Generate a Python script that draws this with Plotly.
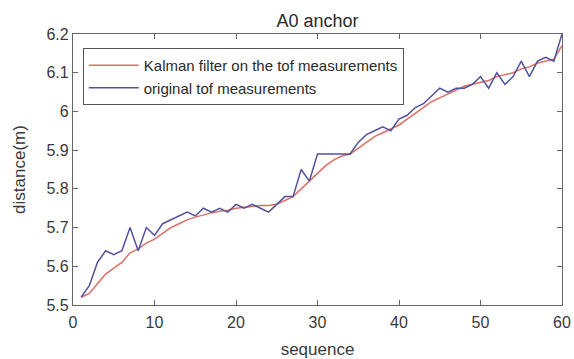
import plotly.graph_objects as go

seq = list(range(1, 61))
tof = [5.52, 5.55, 5.61, 5.64, 5.63, 5.64, 5.70, 5.64, 5.70, 5.68,
       5.71, 5.72, 5.73, 5.74, 5.73, 5.75, 5.74, 5.75, 5.74, 5.76,
       5.75, 5.76, 5.75, 5.74, 5.76, 5.78, 5.78, 5.85, 5.82, 5.89,
       5.89, 5.89, 5.89, 5.89, 5.92, 5.94, 5.95, 5.96, 5.95, 5.98,
       5.99, 6.01, 6.02, 6.04, 6.06, 6.05, 6.06, 6.06, 6.07, 6.09,
       6.06, 6.10, 6.07, 6.09, 6.13, 6.09, 6.13, 6.14, 6.13, 6.20]
kalman = [5.52, 5.53, 5.555, 5.58, 5.595, 5.61, 5.635, 5.645, 5.66, 5.67,
          5.685, 5.70, 5.71, 5.72, 5.727, 5.733, 5.738, 5.742, 5.745, 5.75,
          5.752, 5.755, 5.757, 5.757, 5.76, 5.77, 5.78, 5.80, 5.82, 5.84,
          5.86, 5.875, 5.885, 5.89, 5.905, 5.92, 5.935, 5.945, 5.955, 5.965,
          5.98, 5.995, 6.01, 6.025, 6.035, 6.045, 6.055, 6.065, 6.07, 6.075,
          6.08, 6.09, 6.095, 6.10, 6.11, 6.115, 6.125, 6.13, 6.135, 6.17]

x_ticks = [0, 10, 20, 30, 40, 50, 60]
y_ticks = [5.5, 5.6, 5.7, 5.8, 5.9, 6.0, 6.1, 6.2]
y_labels = ["5.5", "5.6", "5.7", "5.8", "5.9", "6", "6.1", "6.2"]

fig = go.Figure()
fig.add_trace(go.Scatter(x=seq, y=kalman, mode="lines", name="Kalman filter on the tof measurements",
                         line=dict(color="#de6e64", width=1.5)))
fig.add_trace(go.Scatter(x=seq, y=tof, mode="lines", name="original tof measurements",
                         line=dict(color="#52529e", width=1.5)))

fam = "Liberation Sans, Arial, sans-serif"
tickfont = dict(family=fam, size=16, color="#3a3a3a")
titlefont = dict(family=fam, size=17, color="#3a3a3a")
axis_common = dict(showgrid=False, zeroline=False, showline=True, mirror="ticks",
                   linecolor="#666666", linewidth=1.2, ticks="inside", ticklen=5,
                   tickcolor="#666666", tickfont=tickfont, automargin=False)

fig.update_layout(
    width=574, height=359,
    margin=dict(l=73, r=12, t=34, b=54),
    paper_bgcolor="white", plot_bgcolor="white",
    font=titlefont,
    title=dict(text="A0 anchor", x=0.5, xanchor="center", xref="paper", y=0.942, yanchor="middle",
               font=dict(family=fam, size=18, color="#2a2a2a")),
    xaxis=dict(range=[0, 60], tickvals=x_ticks, ticktext=[str(v) for v in x_ticks],
               ticklabelstandoff=3,
               title=dict(text="sequence", font=titlefont, standoff=16), **axis_common),
    yaxis=dict(range=[5.5, 6.2], tickvals=y_ticks, ticktext=y_labels,
               title=dict(text="distance(m)", font=titlefont, standoff=16), **axis_common),
    legend=dict(x=0.02, y=0.948, xanchor="left", yanchor="top",
                bgcolor="white", bordercolor="#555555", borderwidth=1,
                font=dict(family=fam, size=15, color="#2a2a2a"),
                tracegroupgap=0, itemwidth=50),
    showlegend=True,
)

fig.write_html("out.html")
